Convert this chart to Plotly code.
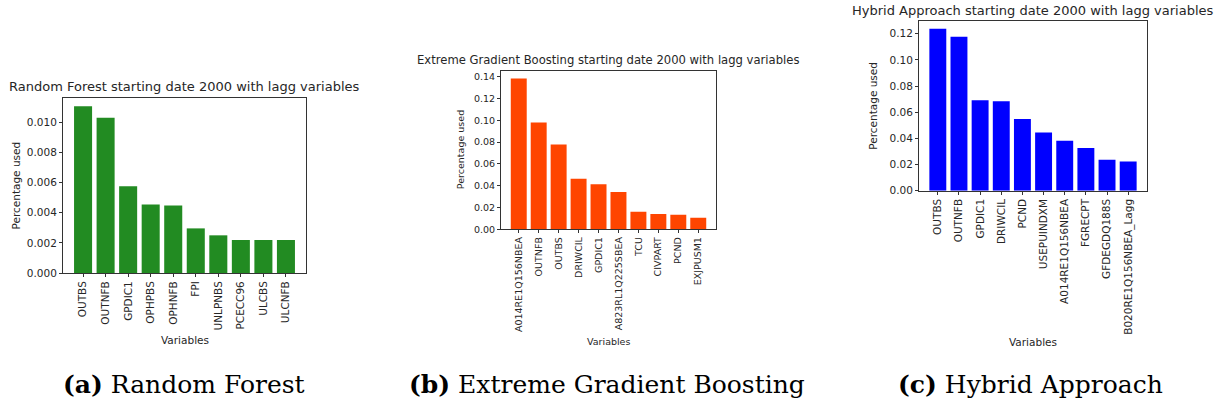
import plotly.graph_objects as go

W, H = 1215, 405

# ---------------- data ----------------
rf_vars = ["OUTBS", "OUTNFB", "GPDIC1", "OPHPBS", "OPHNFB", "FPI", "UNLPNBS", "PCECC96", "ULCBS", "ULCNFB"]
rf_vals = [0.01106, 0.01031, 0.00576, 0.00455, 0.00448, 0.00296, 0.00250, 0.00219, 0.00219, 0.00219]

xgb_vars = ["A014RE1Q156NBEA", "OUTNFB", "OUTBS", "DRIWCIL", "GPDIC1", "A823RL1Q225SBEA", "TCU", "CIVPART", "PCND", "EXJPUSM1"]
xgb_vals = [0.1382, 0.0979, 0.0778, 0.0463, 0.0412, 0.0341, 0.0161, 0.0140, 0.0134, 0.0106]

hyb_vars = ["OUTBS", "OUTNFB", "GPDIC1", "DRIWCIL", "PCND", "USEPUINDXM", "A014RE1Q156NBEA", "FGRECPT", "GFDEGDQ188S", "B020RE1Q156NBEA_Lagg"]
hyb_vals = [0.1238, 0.1177, 0.0691, 0.0684, 0.0549, 0.0445, 0.0381, 0.0326, 0.0236, 0.0224]

rf_ticks = [0.000, 0.002, 0.004, 0.006, 0.008, 0.010]
xgb_ticks = [0.00, 0.02, 0.04, 0.06, 0.08, 0.10, 0.12, 0.14]
hyb_ticks = [0.00, 0.02, 0.04, 0.06, 0.08, 0.10, 0.12]

titles = [
    "Random Forest starting date 2000 with lagg variables",
    "Extreme Gradient Boosting starting date 2000 with lagg variables",
    "Hybrid Approach starting date 2000 with lagg variables",
]
captions = [
    "<b>(a)</b> Random Forest",
    "<b>(b)</b> Extreme Gradient Boosting",
    "<b>(c)</b> Hybrid Approach",
]
colors = ["#228B22", "#FF4500", "#0000FF"]

# ---------------- layout geometry (pixels) ----------------
panels = [
    dict(x0=63, x1=306, y0=98, y1=273, ylab_x=15, xlab_y=340, title_y=86, cap_x=184, fs=10.5, tfs=13),
    dict(x0=501, x1=716, y0=71, y1=229.3, ylab_x=460, xlab_y=341, title_y=60.5, cap_x=607, fs=9.5, tfs=11.6),
    dict(x0=919, x1=1147, y0=20.7, y1=190.7, ylab_x=873, xlab_y=342, title_y=10, cap_x=1030, fs=10.5, tfs=13),
]

def px(x):
    return x / W

def py(y):
    return 1 - y / H

TXT = "#262626"
FONT = "DejaVu Sans"

fig = go.Figure()
series = [(rf_vars, rf_vals, rf_ticks, ".3f"), (xgb_vars, xgb_vals, xgb_ticks, ".2f"), (hyb_vars, hyb_vals, hyb_ticks, ".2f")]

annotations = []
for i, ((cats, vals, ticks, fmt), p, col) in enumerate(zip(series, panels, colors)):
    n = "" if i == 0 else str(i + 1)
    fig.add_trace(go.Bar(
        x=cats, y=vals, width=[0.8] * len(cats),
        marker=dict(color=col, line=dict(width=0)),
        xaxis="x" + n, yaxis="y" + n, showlegend=False,
    ))
    ymax = max(vals) * 1.05
    fig.update_layout(**{
        "xaxis" + n: dict(
            domain=[px(p["x0"]), px(p["x1"])], anchor="y" + n, automargin=False,
            type="category", range=[-0.89, len(cats) - 1 + 0.89],
            showline=True, mirror=True, linecolor="#333", linewidth=1,
            ticks="outside", ticklen=3, tickcolor="#333", tickwidth=1,
            tickangle=-90, showgrid=False, zeroline=False,
            tickfont=dict(family=FONT, size=p["fs"], color=TXT),
        ),
        "yaxis" + n: dict(
            domain=[py(p["y1"]), py(p["y0"])], anchor="x" + n, automargin=False,
            range=[0, ymax], tickvals=ticks, tickformat=fmt,
            showline=True, mirror=True, linecolor="#333", linewidth=1,
            ticks="outside", ticklen=3, tickcolor="#333", tickwidth=1,
            showgrid=False, zeroline=False,
            tickfont=dict(family=FONT, size=p["fs"], color=TXT),
        ),
    })
    xc = (p["x0"] + p["x1"]) / 2
    yc = (p["y0"] + p["y1"]) / 2
    annotations.append(dict(text=titles[i], x=px(xc), y=py(p["title_y"]), xref="paper", yref="paper",
                            xanchor="center", yanchor="middle", showarrow=False,
                            font=dict(family=FONT, size=p["tfs"], color=TXT)))
    annotations.append(dict(text="Percentage used", x=px(p["ylab_x"]), y=py(yc), xref="paper", yref="paper",
                            xanchor="center", yanchor="middle", textangle=-90, showarrow=False,
                            font=dict(family=FONT, size=p["fs"], color=TXT)))
    annotations.append(dict(text="Variables", x=px(xc), y=py(p["xlab_y"]), xref="paper", yref="paper",
                            xanchor="center", yanchor="middle", showarrow=False,
                            font=dict(family=FONT, size=p["fs"], color=TXT)))
    annotations.append(dict(text=captions[i], x=px(p["cap_x"]), y=py(384), xref="paper", yref="paper",
                            xanchor="center", yanchor="middle", showarrow=False,
                            font=dict(family="DejaVu Serif", size=25, color="#000")))

fig.update_layout(
    width=W, height=H, margin=dict(l=0, r=0, t=0, b=0),
    paper_bgcolor="white", plot_bgcolor="white",
    annotations=annotations, bargap=0.2,
)

fig.write_html(
    "out.html",
    config={"displayModeBar": False},
    post_script="document.body.style.margin='0';document.body.style.overflow='hidden';",
)
